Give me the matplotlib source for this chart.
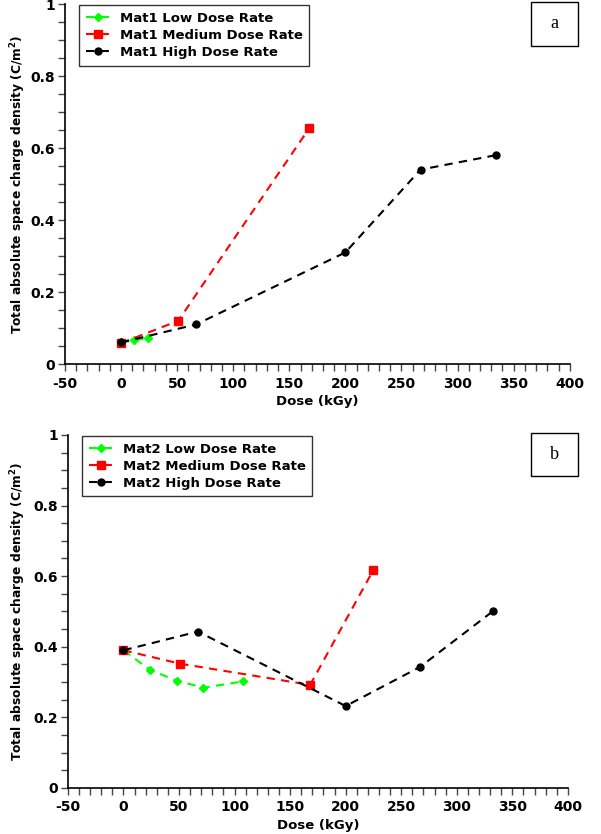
import matplotlib.pyplot as plt
from matplotlib.patches import Rectangle
from matplotlib.ticker import MultipleLocator

# Panel a (Mat1)
a_low_dose = [0, 12, 24]
a_low_q = [0.06, 0.066, 0.072]
a_med_dose = [0, 51, 168]
a_med_q = [0.058, 0.12, 0.656]
a_high_dose = [0, 67, 200, 267, 334]
a_high_q = [0.06, 0.11, 0.31, 0.54, 0.58]

# Panel b (Mat2)
b_low_dose = [0, 24, 48, 72, 108]
b_low_q = [0.39, 0.334, 0.304, 0.284, 0.302]
b_med_dose = [0, 51, 168, 225]
b_med_q = [0.39, 0.352, 0.292, 0.618]
b_high_dose = [0, 67, 200, 267, 333]
b_high_q = [0.39, 0.443, 0.232, 0.343, 0.502]

x_ticks = [-50, 0, 50, 100, 150, 200, 250, 300, 350, 400]
y_ticks = [0, 0.2, 0.4, 0.6, 0.8, 1]
y_tick_labels = ["0", "0.2", "0.4", "0.6", "0.8", "1"]

fig = plt.figure(figsize=(6.01, 8.34), dpi=100)
ax_a = fig.add_axes([0.108, 0.5635, 0.840, 0.4317])
ax_b = fig.add_axes([0.113, 0.0552, 0.832, 0.4233])


def draw_panel(ax, mat, low, med, high, letter, box, ylab_x):
    ax.plot(low[0], low[1], linestyle=(0, (4, 3)), color="#00ff00", lw=1.5,
            marker="D", ms=4, label=f"{mat} Low Dose Rate", clip_on=False)
    ax.plot(med[0], med[1], linestyle=(0, (4, 3)), color="#ff0000", lw=1.5,
            marker="s", ms=6, label=f"{mat} Medium Dose Rate", clip_on=False)
    ax.plot(high[0], high[1], linestyle=(0, (4, 3)), color="black", lw=1.5,
            marker="o", ms=5, label=f"{mat} High Dose Rate", clip_on=False)

    ax.set_xlim(-50, 400)
    ax.set_ylim(0, 1)
    ax.set_xticks(x_ticks)
    ax.set_xticklabels([str(t) for t in x_ticks], fontweight="bold", fontsize=10)
    ax.xaxis.set_minor_locator(MultipleLocator(10))
    ax.set_yticks(y_ticks)
    ax.set_yticklabels(y_tick_labels, fontweight="bold", fontsize=10)
    ax.yaxis.set_minor_locator(MultipleLocator(0.05))
    ax.tick_params(which="both", direction="out", length=5, width=1, color="#444444")
    ax.tick_params(axis="x", pad=4)
    ax.tick_params(axis="y", pad=2)

    for side in ["top", "right"]:
        ax.spines[side].set_visible(False)
    for side in ["left", "bottom"]:
        ax.spines[side].set_linewidth(1.2)

    ax.set_xlabel("Dose (kGy)", fontweight="bold", fontsize=9.5, labelpad=3)
    ax.set_ylabel("Total absolute space charge density (C/m$^\\mathbf{2}$)",
                  fontweight="bold", fontsize=8.8)
    ax.yaxis.set_label_coords(ylab_x, 0.5)

    leg = ax.legend(loc="upper left", bbox_to_anchor=(0.028, 0.996), borderaxespad=0,
                    frameon=True, fancybox=False, edgecolor="black",
                    handlelength=1.9, handletextpad=0.7, borderpad=0.5,
                    labelspacing=0.3, prop={"weight": "bold", "size": 9.5})
    leg.get_frame().set_linewidth(1.0)

    x0, y0, x1, y1 = box
    ax.add_patch(Rectangle((x0, y0), x1 - x0, y1 - y0, transform=ax.transAxes,
                           facecolor="white", edgecolor="black", lw=1.0,
                           clip_on=False, zorder=5))
    ax.text((x0 + x1) / 2, (y0 + y1) / 2, letter, transform=ax.transAxes,
            ha="center", va="center", fontsize=13, family="Liberation Serif",
            zorder=6)


draw_panel(ax_a, "Mat1", (a_low_dose, a_low_q), (a_med_dose, a_med_q),
           (a_high_dose, a_high_q), "a", (0.923, 0.883, 1.016, 1.006), -0.073)
draw_panel(ax_b, "Mat2", (b_low_dose, b_low_q), (b_med_dose, b_med_q),
           (b_high_dose, b_high_q), "b", (0.926, 0.884, 1.020, 1.006), -0.080)

fig.savefig("out.png", dpi=100)
